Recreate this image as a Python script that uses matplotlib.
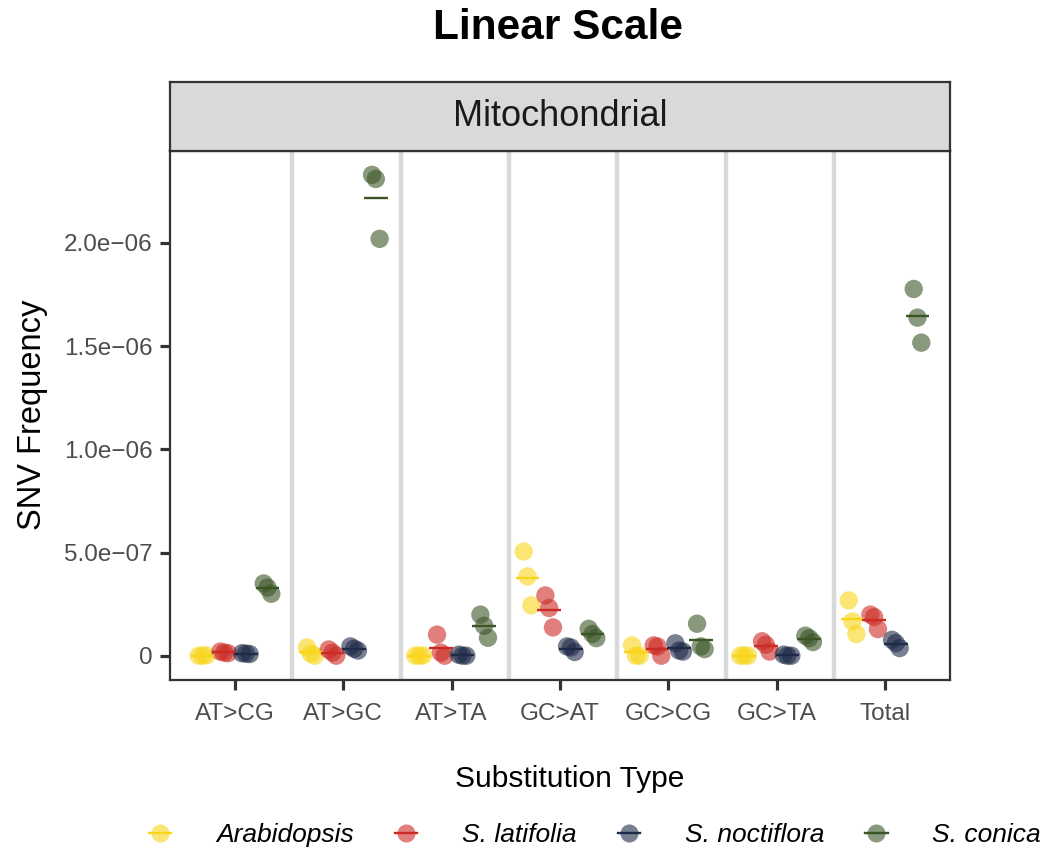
import matplotlib
matplotlib.use("Agg")
import matplotlib.pyplot as plt
from matplotlib.lines import Line2D
import numpy as np

plt.rcParams['font.family'] = ['Liberation Sans', 'DejaVu Sans']

categories = ["AT>CG", "AT>GC", "AT>TA", "GC>AT", "GC>CG", "GC>TA", "Total"]
species = ["Arabidopsis", "S. latifolia", "S. noctiflora", "S. conica"]
colors = ["#F8D51A", "#CC2A24", "#1E2B48", "#3A5526"]

# SNV frequency replicates, in units of 1e-7, one list per category
arabidopsis = [[0.0, 0.0, 0.02], [0.4, 0.1, 0.0], [0.0, 0.0, 0.01], [5.05, 3.84, 2.44],
               [0.5, 0.0, 0.0], [0.0, 0.01, 0.0], [2.68, 1.66, 1.05]]
latifolia = [[0.2, 0.15, 0.12], [0.3, 0.15, 0.0], [1.02, 0.15, 0.0], [2.92, 2.31, 1.37],
             [0.5, 0.45, 0.0], [0.7, 0.53, 0.2], [1.99, 1.87, 1.29]]
noctiflora = [[0.12, 0.1, 0.08], [0.45, 0.34, 0.25], [0.05, 0.0, 0.0], [0.45, 0.4, 0.18],
              [0.6, 0.25, 0.2], [0.05, 0.0, 0.0], [0.77, 0.61, 0.37]]
conica = [[3.5, 3.3, 3.0], [23.3, 23.1, 20.2], [1.99, 1.45, 0.87], [1.3, 1.05, 0.85],
          [1.55, 0.45, 0.32], [0.97, 0.85, 0.66], [17.77, 16.38, 15.17]]
series = [arabidopsis, latifolia, noctiflora, conica]
scale = 1e-7

yticks = [0, 5e-7, 1e-6, 1.5e-6, 2e-6]
yticklabels = ["0", "5.0e\u221207", "1.0e\u221206", "1.5e\u221206", "2.0e\u221206"]

W, H = 1040, 852
fig = plt.figure(figsize=(W / 100, H / 100), dpi=100)

left, right = 170 / W, 950 / W
pbot, ptop = 1 - 680 / H, 1 - 150.7 / H
stop = 1 - 81.7 / H
ax = fig.add_axes([left, pbot, right - left, ptop - pbot])
sax = fig.add_axes([left, ptop, right - left, stop - ptop])

dodge = [-0.3, -0.1, 0.1, 0.3]
jit = [-0.035, 0.0, 0.035]
n = len(categories)
x = np.arange(1, n + 1)

# separators between categories
for k in range(n - 1):
    ax.axvline(k + 1.53, color="#D9D9D9", lw=3.2, zorder=0)

for si, (vals, col) in enumerate(zip(series, colors)):
    for ci, reps in enumerate(vals):
        xs = x[ci] + dodge[si] + np.array(jit[:len(reps)])
        ys = np.array(reps) * scale
        ax.scatter(xs, ys, s=175, color=col, alpha=0.6, edgecolors="none", zorder=3)
        m = ys.mean()
        ax.plot([x[ci] + dodge[si] - 0.11, x[ci] + dodge[si] + 0.11], [m, m],
                color=col, lw=1.7, zorder=4, solid_capstyle="butt")

ax.set_xlim(0.4, n + 0.6)
ax.set_ylim(-1.178e-7, 2.447e-6)
ax.set_xticks(x)
ax.set_xticklabels(categories, fontsize=17.5, color="#4D4D4D")
ax.set_yticks(yticks)
ax.set_yticklabels(yticklabels, fontsize=17.5, color="#4D4D4D")
ax.tick_params(axis="both", length=7.5, width=2.3, color="#333333", pad=5)
ax.tick_params(axis="x", pad=9)
for sp in ax.spines.values():
    sp.set_color("#333333")
    sp.set_linewidth(1.6)

sax.set_facecolor("#D9D9D9")
sax.set_xticks([])
sax.set_yticks([])
for sp in sax.spines.values():
    sp.set_color("#333333")
    sp.set_linewidth(1.6)
sax.text(0.5, 0.5, "Mitochondrial", ha="center", va="center", fontsize=26,
         color="#1A1A1A", transform=sax.transAxes)

fig.text(558 / W, 1 - 28 / H, "Linear Scale", ha="center", va="center",
         fontsize=30.5, fontweight="bold")
fig.text(33 / W, 1 - 415 / H, "SNV Frequency", ha="center", va="center",
         rotation=90, fontsize=23.5)
fig.text(570 / W, 1 - 779 / H, "Substitution Type", ha="center", va="center",
         fontsize=21.5)

handles = [Line2D([0], [0], color=c, lw=1.7, marker="o", markersize=13,
                  markerfacecolor=c, markeredgecolor="none")
           for c in colors]
leg = fig.legend(handles, species, loc="center", ncol=4,
                 bbox_to_anchor=(595 / W, 1 - 835 / H), frameon=False,
                 prop={"size": 19, "style": "italic"}, handlelength=0.85,
                 handletextpad=1.7, columnspacing=1.55)
for lh, c in zip(leg.legend_handles, colors):
    lh.set_markerfacecolor(matplotlib.colors.to_rgba(c, 0.6))

fig.savefig("out.png", dpi=100)
